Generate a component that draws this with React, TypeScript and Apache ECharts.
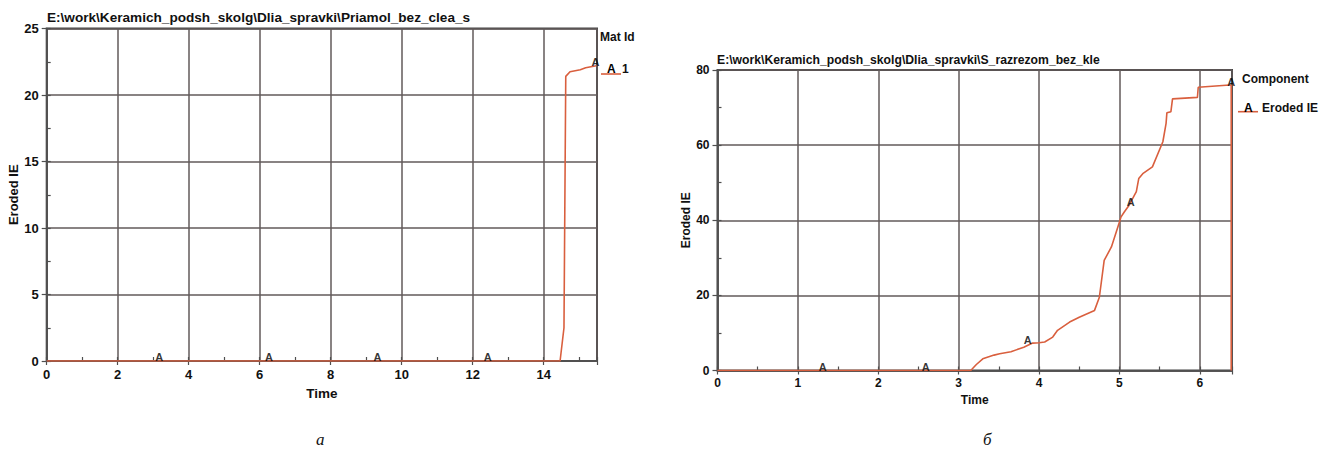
import React, { useEffect, useRef } from "react";
import * as echarts from "echarts";

// ---------- data ----------
const leftTitle = "E:\\work\\Keramich_podsh_skolg\\Dlia_spravki\\Priamol_bez_clea_s";
const rightTitle = "E:\\work\\Keramich_podsh_skolg\\Dlia_spravki\\S_razrezom_bez_kle";

const leftTime = [0, 14.46, 14.57, 14.62, 14.74, 15.03, 15.18, 15.48];
const leftEroded = [0, 0, 2.5, 21.4, 21.75, 21.9, 22.05, 22.2];
const leftMarkTime = [3.17, 6.26, 9.32, 12.42, 15.46];
const leftMarkEroded = [0, 0, 0, 0, 22.2];

const rightTime = [
  0, 3.15, 3.22, 3.3, 3.44, 3.51, 3.65, 3.81, 3.92, 4.0, 4.07, 4.17, 4.23, 4.38, 4.5,
  4.69, 4.75, 4.81, 4.9, 4.98, 5.02, 5.06, 5.12, 5.21, 5.24, 5.29, 5.41, 5.54, 5.58,
  5.59, 5.64, 5.66, 5.97, 5.98, 6.37, 6.39, 6.39,
];
const rightEroded = [
  0, 0, 1.6, 3.1, 4.1, 4.45, 5.0, 6.2, 7.3, 7.4, 7.6, 8.9, 10.7, 12.9, 14.2,
  16.0, 19.5, 29.3, 32.9, 38.2, 40.9, 42.2, 44.0, 47.6, 51.1, 52.4, 54.2, 60.9, 65.8,
  68.6, 68.9, 72.3, 72.7, 75.4, 76.0, 76.0, 0,
];
const rightMarkTime = [1.31, 2.59, 3.86, 5.14, 6.39];
const rightMarkEroded = [0, 0, 7.3, 44.0, 76.0];

const leftX = { min: 0, max: 15.5, major: 2, minor: 1 };
const leftY = { min: 0, max: 25, major: 5, minor: 2.5 };
const rightX = { min: 0, max: 6.4, major: 1, minor: 0.5 };
const rightY = { min: 0, max: 80, major: 20, minor: 10 };

const xName = "Time";
const yName = "Eroded IE";
const leftLegendTitle = "Mat Id";
const leftLegendName = "1";
const rightLegendTitle = "Component";
const rightLegendName = "Eroded IE";
const markLetter = "A";
const captions = ["а", "б"];

// ---------- styles ----------
const FONT = "'Liberation Sans', Arial, sans-serif";
const TEXT = "#111";
const RED = "#d95f3e";
const GRIDC = "#625a5a";
const AXISC = "#4f4f4f";

function zip(a: number[], b: number[]) {
  return a.map((v, i) => [v, b[i]]);
}

function mainX(gi: number, r: any, labelSize: number, margin: number, nameGap: number, nameSize: number) {
  return {
    gridIndex: gi,
    type: "value",
    position: "bottom",
    min: r.min,
    max: r.max,
    interval: r.major,
    axisLine: { show: true, lineStyle: { color: AXISC, width: 1.6 } },
    axisTick: { show: true, length: 4, lineStyle: { color: AXISC, width: 1.2 } },
    splitLine: { show: true, lineStyle: { color: GRIDC, width: 1.5 } },
    axisLabel: {
      show: true,
      margin,
      fontFamily: FONT,
      fontWeight: "bold",
      fontSize: labelSize,
      color: TEXT,
      formatter: (v: number) =>
        Math.abs(v / r.major - Math.round(v / r.major)) < 1e-6 && v < r.max - 1e-6 ? String(Math.round(v)) : "",
    },
    name: xName,
    nameLocation: "middle",
    nameGap,
    nameTextStyle: { fontFamily: FONT, fontWeight: "bold", fontSize: nameSize, color: TEXT },
  };
}

function minorX(gi: number, r: any) {
  return {
    gridIndex: gi,
    type: "value",
    position: "bottom",
    min: r.min,
    max: r.max,
    interval: r.minor,
    axisLine: { show: false },
    axisTick: { show: true, inside: true, length: 4, lineStyle: { color: AXISC, width: 1.2 } },
    splitLine: { show: false },
    axisLabel: { show: false },
  };
}

function mainY(gi: number, r: any, labelSize: number, margin: number, nameGap: number, nameSize: number) {
  return {
    gridIndex: gi,
    type: "value",
    position: "left",
    min: r.min,
    max: r.max,
    interval: r.major,
    axisLine: { show: true, lineStyle: { color: AXISC, width: 1.6 } },
    axisTick: { show: true, length: 5, lineStyle: { color: AXISC, width: 1.2 } },
    splitLine: { show: true, lineStyle: { color: GRIDC, width: 1.5 } },
    axisLabel: {
      show: true,
      margin,
      fontFamily: FONT,
      fontWeight: "bold",
      fontSize: labelSize,
      color: TEXT,
    },
    name: yName,
    nameLocation: "middle",
    nameGap,
    nameTextStyle: { fontFamily: FONT, fontWeight: "bold", fontSize: nameSize, color: TEXT },
  };
}

function minorY(gi: number, r: any) {
  return {
    gridIndex: gi,
    type: "value",
    position: "left",
    min: r.min,
    max: r.max,
    interval: r.minor,
    axisLine: { show: false },
    axisTick: { show: true, inside: true, length: 4, lineStyle: { color: AXISC, width: 1.2 } },
    splitLine: { show: false },
    axisLabel: { show: false },
  };
}

function markSeries(xi: number, yi: number, xs: number[], ys: number[], dy: number) {
  return {
    type: "scatter",
    xAxisIndex: xi,
    yAxisIndex: yi,
    symbolSize: 0.1,
    data: zip(xs, ys),
    z: 5,
    label: {
      show: true,
      position: "inside",
      offset: [0, dy],
      formatter: markLetter,
      fontFamily: FONT,
      fontWeight: "bold",
      fontSize: 11,
      color: "#000",
    },
  };
}

export default function App() {
  const ref = useRef<HTMLDivElement>(null);
  useEffect(() => {
    document.body.style.margin = "0";
    if (!ref.current) return;
    const chart = echarts.init(ref.current, undefined, { renderer: "svg" });
    const titleStyle = (size: number) => ({ fontFamily: FONT, fontWeight: "bold", fontSize: size, color: TEXT });
    const option: any = {
      animation: false,
      backgroundColor: "#fff",
      title: [
        { text: leftTitle, left: 47, top: 10, padding: 0, textStyle: titleStyle(13.6) },
        { text: rightTitle, left: 717, top: 54, padding: 0, textStyle: titleStyle(12.2) },
      ],
      grid: [
        { left: 46.7, top: 28.5, width: 550.3, height: 332.5, show: true, borderColor: "#444", borderWidth: 2, backgroundColor: "transparent" },
        { left: 717.5, top: 70, width: 514.5, height: 300.5, show: true, borderColor: "#444", borderWidth: 2, backgroundColor: "transparent" },
      ],
      xAxis: [
        mainX(0, leftX, 13, 7, 25, 13.5),
        minorX(0, leftX),
        mainX(1, rightX, 12, 6, 23, 12),
        minorX(1, rightX),
      ],
      yAxis: [
        mainY(0, leftY, 13, 8, 18, 13),
        minorY(0, leftY),
        mainY(1, rightY, 12, 8, 26, 12),
        minorY(1, rightY),
      ],
      series: [
        {
          type: "line",
          xAxisIndex: 0,
          yAxisIndex: 0,
          data: zip(leftTime, leftEroded),
          showSymbol: false,
          symbol: "none",
          lineStyle: { color: RED, width: 1.6 },
          z: 3,
        },
        {
          type: "line",
          xAxisIndex: 2,
          yAxisIndex: 2,
          data: zip(rightTime, rightEroded),
          showSymbol: false,
          symbol: "none",
          lineStyle: { color: RED, width: 1.6 },
          z: 3,
        },
        markSeries(0, 0, leftMarkTime, leftMarkEroded, -4),
        markSeries(2, 2, rightMarkTime, rightMarkEroded, -3.5),
      ],
      graphic: [
        { type: "text", left: 600, top: 31, style: { text: leftLegendTitle, font: `bold 12px ${FONT}`, fill: TEXT } },
        { type: "line", shape: { x1: 601, y1: 74, x2: 621, y2: 74 }, style: { stroke: RED, lineWidth: 1.6 } },
        { type: "text", left: 607, top: 63, style: { text: markLetter, font: `bold 12px ${FONT}`, fill: "#000" } },
        { type: "text", left: 622, top: 63, style: { text: leftLegendName, font: `bold 12px ${FONT}`, fill: TEXT } },
        { type: "text", left: 1242, top: 73, style: { text: rightLegendTitle, font: `bold 12px ${FONT}`, fill: TEXT } },
        { type: "line", shape: { x1: 1238, y1: 111.7, x2: 1258, y2: 111.7 }, style: { stroke: RED, lineWidth: 1.6 } },
        { type: "text", left: 1244, top: 102, style: { text: markLetter, font: `bold 12px ${FONT}`, fill: "#000" } },
        { type: "text", left: 1262, top: 102, style: { text: rightLegendName, font: `bold 12px ${FONT}`, fill: TEXT } },
        { type: "text", left: 316, top: 431, style: { text: captions[0], font: `italic 17px 'Liberation Serif', serif`, fill: TEXT } },
        { type: "text", left: 983, top: 431, style: { text: captions[1], font: `italic 17px 'Liberation Serif', serif`, fill: TEXT } },
      ],
    };
    chart.setOption(option);
    return () => chart.dispose();
  }, []);
  return <div ref={ref} style={{ width: 1329, height: 456 }} />;
}
